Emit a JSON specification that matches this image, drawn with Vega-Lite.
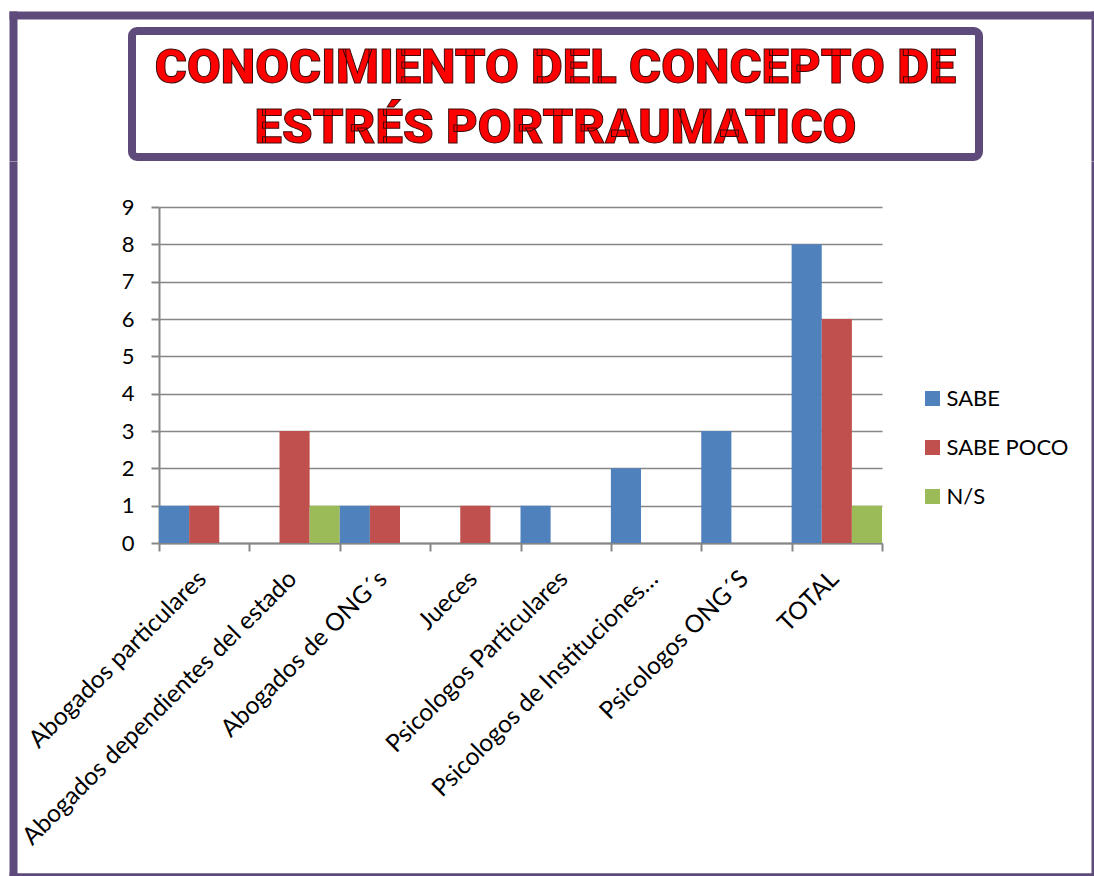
{
  "$schema": "https://vega.github.io/schema/vega-lite/v6.json",
  "padding": {"left": 9, "top": 11, "right": 0, "bottom": 0},
  "background": "white",
  "config": {"view": {"stroke": null}, "font": "Lato"},
  "spacing": 11,
  "vconcat": [
    {
      "width": 847,
      "height": 126,
      "view": {"stroke": "#5E4B7B", "strokeWidth": 8, "cornerRadius": 5},
      "data": {"values": [
        {"line": 1, "text": "CONOCIMIENTO DEL CONCEPTO DE"},
        {"line": 2, "text": "ESTRÉS PORTRAUMATICO"}
      ]},
      "resolve": {"axis": {"y": "independent"}},
      "layer": [
        {
          "mark": {"type": "text", "font": "Roboto", "fontWeight": 900, "fontSize": 49, "fill": "#FF0000", "stroke": "#3B0A0A", "strokeWidth": 1, "baseline": "alphabetic", "align": "center"},
          "encoding": {
            "text": {"field": "text"},
            "x": {"datum": 0.50369, "type": "quantitative", "scale": {"domain": [0, 1], "range": [-123, 962], "nice": false, "zero": false}, "axis": {"orient": "top", "offset": 16, "labels": false, "ticks": false, "grid": false, "title": null, "domainColor": "#5E4B7B", "domainWidth": 8}},
            "y": {"field": "line", "type": "quantitative", "scale": {"domain": [-0.2, 2.3], "range": [-20, 130], "zero": false, "nice": false}, "axis": {"orient": "left", "offset": 119, "labels": false, "ticks": false, "grid": false, "title": null, "domainColor": "#5E4B7B", "domainWidth": 8}}
          }
        },
        {
          "data": {"values": []},
          "mark": {"type": "text"},
          "encoding": {
            "y": {"datum": 0, "type": "quantitative", "axis": {"orient": "right", "offset": 113.5, "labels": false, "ticks": false, "grid": false, "title": null, "domainColor": "#5E4B7B", "domainWidth": 3}}
          }
        }
      ]
    },
    {
      "width": 750,
      "height": 336,
      "resolve": {"scale": {"x": "independent", "y": "independent"}, "axis": {"x": "independent", "y": "independent"}},
      "layer": [
        {
          "data": {"values": [
            {"cat": "Abogados particulares", "serie": "SABE", "valor": 1},
            {"cat": "Abogados particulares", "serie": "SABE POCO", "valor": 1},
            {"cat": "Abogados particulares", "serie": "N/S", "valor": 0},
            {"cat": "Abogados dependientes del estado", "serie": "SABE", "valor": 0},
            {"cat": "Abogados dependientes del estado", "serie": "SABE POCO", "valor": 3},
            {"cat": "Abogados dependientes del estado", "serie": "N/S", "valor": 1},
            {"cat": "Abogados de ONG´s", "serie": "SABE", "valor": 1},
            {"cat": "Abogados de ONG´s", "serie": "SABE POCO", "valor": 1},
            {"cat": "Abogados de ONG´s", "serie": "N/S", "valor": 0},
            {"cat": "Jueces", "serie": "SABE", "valor": 0},
            {"cat": "Jueces", "serie": "SABE POCO", "valor": 1},
            {"cat": "Jueces", "serie": "N/S", "valor": 0},
            {"cat": "Psicologos Particulares", "serie": "SABE", "valor": 1},
            {"cat": "Psicologos Particulares", "serie": "SABE POCO", "valor": 0},
            {"cat": "Psicologos Particulares", "serie": "N/S", "valor": 0},
            {"cat": "Psicologos de Instituciones…", "serie": "SABE", "valor": 2},
            {"cat": "Psicologos de Instituciones…", "serie": "SABE POCO", "valor": 0},
            {"cat": "Psicologos de Instituciones…", "serie": "N/S", "valor": 0},
            {"cat": "Psicologos ONG´S", "serie": "SABE", "valor": 3},
            {"cat": "Psicologos ONG´S", "serie": "SABE POCO", "valor": 0},
            {"cat": "Psicologos ONG´S", "serie": "N/S", "valor": 0},
            {"cat": "TOTAL", "serie": "SABE", "valor": 8},
            {"cat": "TOTAL", "serie": "SABE POCO", "valor": 6},
            {"cat": "TOTAL", "serie": "N/S", "valor": 1}
          ]},
          "mark": {"type": "bar"},
          "encoding": {
            "x": {
              "field": "cat", "type": "nominal", "sort": null,
              "scale": {"range": [27, 750], "paddingInner": 0, "paddingOuter": 0},
              "axis": {"orient": "bottom", "title": null, "labelAngle": -45, "labelFontSize": 24.5, "labelColor": "black", "labelAlign": "right", "labelBaseline": "middle", "labelPadding": 24, "labelOffset": -2, "labelLimit": 0, "labelOverlap": false, "tickBand": "extent", "tickSize": 8, "tickColor": "#868686", "tickWidth": 2, "domainColor": "#868686", "domainWidth": 2, "grid": false}
            },
            "xOffset": {"field": "serie", "type": "nominal", "scale": {"domain": ["SABE", "SABE POCO", "N/S"], "paddingInner": 0, "paddingOuter": 0}},
            "y": {
              "field": "valor", "type": "quantitative",
              "scale": {"domain": [0, 9], "nice": false},
              "axis": {"orient": "left", "offset": -27, "title": null, "values": [0,1,2,3,4,5,6,7,8,9], "labelFontSize": 22, "labelColor": "black", "labelPadding": 17, "tickSize": 8, "tickColor": "#868686", "tickWidth": 2, "domainColor": "#868686", "domainWidth": 2, "grid": true, "gridColor": "#868686", "gridWidth": 1.5}
            },
            "color": {
              "field": "serie", "type": "nominal",
              "scale": {"domain": ["SABE", "SABE POCO", "N/S"], "range": ["#4F81BD", "#C0504D", "#9BBB59"]},
              "legend": {"title": null, "orient": "none", "legendX": 789.5, "legendY": 356.5, "padding": 0, "symbolType": "square", "symbolSize": 225, "symbolStrokeWidth": 0, "labelFontSize": 22, "labelColor": "black", "labelOffset": 3, "rowPadding": 27}
            }
          }
        },
        {
          "data": {"values": []},
          "mark": {"type": "text"},
          "encoding": {
            "x": {"datum": 0, "type": "quantitative", "scale": {"domain": [0, 1], "range": [-123, 962], "nice": false, "zero": false}, "axis": {"orient": "bottom", "offset": 331.3, "labels": false, "ticks": false, "grid": false, "title": null, "domainColor": "#5E4B7B", "domainWidth": 3}},
            "y": {"datum": 0, "type": "quantitative", "scale": {"domain": [0, 1], "range": [669.3, -45.7], "nice": false, "zero": false}, "axis": {"orient": "left", "offset": 119, "labels": false, "ticks": false, "grid": false, "title": null, "domainColor": "#5E4B7B", "domainWidth": 8}}
          }
        },
        {
          "data": {"values": []},
          "mark": {"type": "text"},
          "encoding": {
            "y": {"datum": 0, "type": "quantitative", "scale": {"domain": [0, 1], "range": [669.3, -45.7], "nice": false, "zero": false}, "axis": {"orient": "right", "offset": 210.5, "labels": false, "ticks": false, "grid": false, "title": null, "domainColor": "#5E4B7B", "domainWidth": 3}}
          }
        }
      ]
    }
  ]
}
